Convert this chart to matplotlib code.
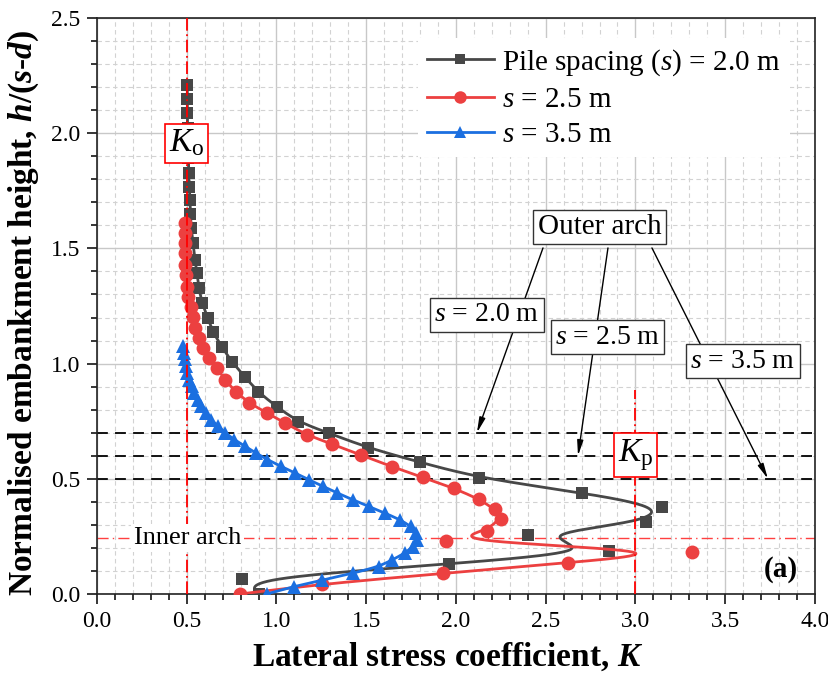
import numpy as np
import matplotlib
matplotlib.use('Agg')
from matplotlib import pyplot as plt
from matplotlib.lines import Line2D
from matplotlib.ticker import MultipleLocator

plt.rcParams['font.family'] = 'Liberation Serif'
plt.rcParams['mathtext.fontset'] = 'custom'
plt.rcParams['mathtext.rm'] = 'Liberation Serif'
plt.rcParams['mathtext.it'] = 'Liberation Serif:italic'
plt.rcParams['mathtext.bf'] = 'Liberation Serif:bold'
plt.rcParams['mathtext.bfit'] = 'Liberation Serif:italic:bold'

# s = 2.0 m
h_20 = [2.209, 2.148, 2.088, 2.023, 1.957, 1.892, 1.827, 1.766, 1.710, 1.649,
        1.589, 1.523, 1.450, 1.393, 1.328, 1.263, 1.198, 1.137, 1.072, 1.007,
        0.942, 0.877, 0.812, 0.747, 0.699, 0.634, 0.572, 0.503, 0.440, 0.378,
        0.313, 0.256, 0.187, 0.130, 0.065, 0.000]
K_20 = [0.503, 0.503, 0.503, 0.505, 0.507, 0.509, 0.511, 0.515, 0.518, 0.520,
        0.525, 0.535, 0.546, 0.557, 0.568, 0.585, 0.618, 0.646, 0.696, 0.752,
        0.825, 0.897, 1.003, 1.120, 1.290, 1.510, 1.800, 2.130, 2.700, 3.150,
        3.060, 2.400, 2.850, 1.960, 0.810, 0.900]

# s = 2.5 m
h_25 = [1.610, 1.567, 1.523, 1.480, 1.428, 1.385, 1.332, 1.289, 1.246, 1.202,
        1.155, 1.111, 1.068, 1.024, 0.981, 0.929, 0.877, 0.829, 0.786, 0.742,
        0.690, 0.651, 0.603, 0.553, 0.506, 0.459, 0.412, 0.368, 0.326, 0.275,
        0.230, 0.184, 0.136, 0.090, 0.043, 0.000]
K_25 = [0.490, 0.488, 0.488, 0.490, 0.490, 0.494, 0.500, 0.507, 0.522, 0.535,
        0.546, 0.566, 0.591, 0.624, 0.669, 0.713, 0.774, 0.847, 0.947, 1.047,
        1.170, 1.309, 1.471, 1.642, 1.818, 1.989, 2.128, 2.217, 2.249, 2.171,
        1.943, 3.317, 2.626, 1.930, 1.252, 0.797]

# s = 3.5 m
h_35 = [1.076, 1.047, 1.018, 0.989, 0.960, 0.931, 0.902, 0.873, 0.844, 0.815,
        0.786, 0.757, 0.728, 0.699, 0.670, 0.641, 0.612, 0.583, 0.554, 0.525,
        0.496, 0.467, 0.438, 0.409, 0.380, 0.351, 0.322, 0.293, 0.264, 0.235,
        0.206, 0.177, 0.148, 0.119, 0.090, 0.061, 0.032, 0.000]
K_35 = [0.481, 0.486, 0.490, 0.494, 0.503, 0.513, 0.527, 0.542, 0.560, 0.580,
        0.605, 0.635, 0.675, 0.715, 0.765, 0.825, 0.885, 0.950, 1.025, 1.105,
        1.180, 1.260, 1.340, 1.425, 1.515, 1.605, 1.690, 1.750, 1.780, 1.785,
        1.760, 1.715, 1.645, 1.570, 1.425, 1.255, 1.095, 0.945]

labels = ['Pile spacing ($s$) = 2.0 m', '$s$ = 2.5 m', '$s$ = 3.5 m']
colours = ['#474747', '#ec4040', '#1b6fe0']
markers = ['s', 'o', '^']
msizes = [8.5, 10, 10]

K0 = 0.5
Kp = 3.0
inner_h = 0.243
outer_h = [0.70, 0.60, 0.50]
outer_labels = ['$s$ = 2.0 m', '$s$ = 2.5 m', '$s$ = 3.5 m']


def bspline(x, y, n=25):
    # uniform cubic b-spline using the points as control polygon, ends pinned
    P = np.column_stack([x, y])
    P = np.vstack([2 * P[0] - P[1], P, 2 * P[-1] - P[-2]])
    t = np.linspace(0, 1, n, endpoint=False)
    b0 = (1 - t) ** 3 / 6
    b1 = (3 * t ** 3 - 6 * t ** 2 + 4) / 6
    b2 = (-3 * t ** 3 + 3 * t ** 2 + 3 * t + 1) / 6
    b3 = t ** 3 / 6
    segs = []
    for i in range(len(P) - 3):
        segs.append(np.outer(b0, P[i]) + np.outer(b1, P[i + 1]) +
                    np.outer(b2, P[i + 2]) + np.outer(b3, P[i + 3]))
    segs.append(P[-2][None, :])
    out = np.vstack(segs)
    return out[:, 0], out[:, 1]


fig, ax = plt.subplots(figsize=(8.29, 6.77), dpi=100)
fig.subplots_adjust(left=0.117, right=0.983, top=0.9734, bottom=0.1226)

ax.set_xlim(0, 4)
ax.set_ylim(0, 2.5)
ax.xaxis.set_major_locator(MultipleLocator(0.5))
ax.xaxis.set_minor_locator(MultipleLocator(0.1))
ax.yaxis.set_major_locator(MultipleLocator(0.5))
ax.yaxis.set_minor_locator(MultipleLocator(0.1))
ax.xaxis.set_major_formatter(plt.FormatStrFormatter('%.1f'))
ax.yaxis.set_major_formatter(plt.FormatStrFormatter('%.1f'))

ax.grid(which='major', color='#c8c8c8', lw=1.0, ls='-', zorder=0)
ax.grid(which='minor', color='#d2d2d2', lw=0.8, ls=(0, (4, 3)), zorder=0)
ax.set_axisbelow(True)

ax.tick_params(which='both', direction='out', top=False, right=False,
               labelsize=17, width=1.1)
ax.tick_params(which='major', length=7, pad=5)
ax.tick_params(which='minor', length=4)
for sp in ax.spines.values():
    sp.set_linewidth(1.2)
    sp.set_color('#222222')

# outer arch levels
for hh in outer_h:
    ax.axhline(hh, color='black', lw=1.3, ls=(0, (6, 4)), zorder=1)

# inner arch level
ax.axhline(inner_h, color='#ff4040', lw=1.0, ls=(0, (8, 3, 1, 3)), zorder=1)

data = [(K_20, h_20), (K_25, h_25), (K_35, h_35)]
handles = []
for (K, h), c, m, ms, lab in zip(data, colours, markers, msizes, labels):
    xs, ys = bspline(K, h)
    ax.plot(xs, ys, color=c, lw=2.0, zorder=3)
    ax.plot(K, h, ls='none', marker=m, ms=ms, color=c, mec=c, mew=0, zorder=3)
    handles.append(Line2D([], [], color=c, lw=2.0, marker=m, ms=ms - 1, mew=0, label=lab))

# K0 and Kp
ax.axvline(K0, color='red', lw=1.3, ls=(0, (7, 2, 1, 2)), zorder=4)
ax.axvline(Kp, ymin=0, ymax=0.885 / 2.5, color='red', lw=1.3,
           ls=(0, (7, 2, 1, 2)), zorder=4)

ax.text(K0, 1.957, r'$K_{\rm o}$', fontsize=24, ha='center', va='center', zorder=6,
        bbox=dict(boxstyle='square,pad=0.12', fc='white', ec='red', lw=1.2))
ax.text(Kp, 0.603, r'$K_{\rm p}$', fontsize=24, ha='center', va='center', zorder=6,
        bbox=dict(boxstyle='square,pad=0.12', fc='white', ec='red', lw=1.2))

ax.text(0.506, inner_h, 'Inner arch', fontsize=19, ha='center', va='center', zorder=5,
        bbox=dict(boxstyle='square,pad=0.1', fc='white', ec='none'))

# outer arch callouts
ax.text(2.80, 1.593, 'Outer arch', fontsize=21, ha='center', va='center', zorder=7,
        bbox=dict(boxstyle='square,pad=0.15', fc='white', ec='#333333', lw=1.0))
starts = [(2.485, 1.502), (2.847, 1.502), (3.092, 1.502)]
tips = [(2.117, outer_h[0]), (2.68, outer_h[1]), (3.738, outer_h[2])]
boxes = [(2.172, 1.211), (2.844, 1.115), (3.599, 1.011)]
for st, tp, bx, lab in zip(starts, tips, boxes, outer_labels):
    ax.annotate('', xy=tp, xytext=st, zorder=5,
                arrowprops=dict(arrowstyle='-|>,head_width=0.18,head_length=0.9',
                                color='black', lw=1.0, shrinkA=0, shrinkB=0))
    ax.text(bx[0], bx[1], lab, fontsize=20, ha='center', va='center', zorder=7,
            bbox=dict(boxstyle='square,pad=0.15', fc='white', ec='#333333', lw=1.0))

ax.text(3.81, 0.108, '(a)', fontsize=21, fontweight='bold', ha='center', va='center')

leg = ax.legend(handles=handles, loc='upper left', bbox_to_anchor=(0.447, 0.965),
                fontsize=21, frameon=True, fancybox=False, framealpha=1,
                edgecolor='none', facecolor='white', handlelength=2.3,
                handletextpad=0.3, labelspacing=0.3, borderpad=0.3,
                borderaxespad=0)
leg.set_zorder(8)

ax.set_xlabel(r'Lateral stress coefficient, $\mathbfit{K}$', fontsize=24,
              fontweight='bold')
ax.xaxis.set_label_coords(0.488, -0.080)
ax.set_ylabel(r'Normalised embankment height, $\mathbfit{h}$/($\mathbfit{s}$-$\mathbfit{d}$)',
              fontsize=24, fontweight='bold')
ax.yaxis.set_label_coords(-0.078, 0.488)

fig.savefig('out.png', dpi=100)
